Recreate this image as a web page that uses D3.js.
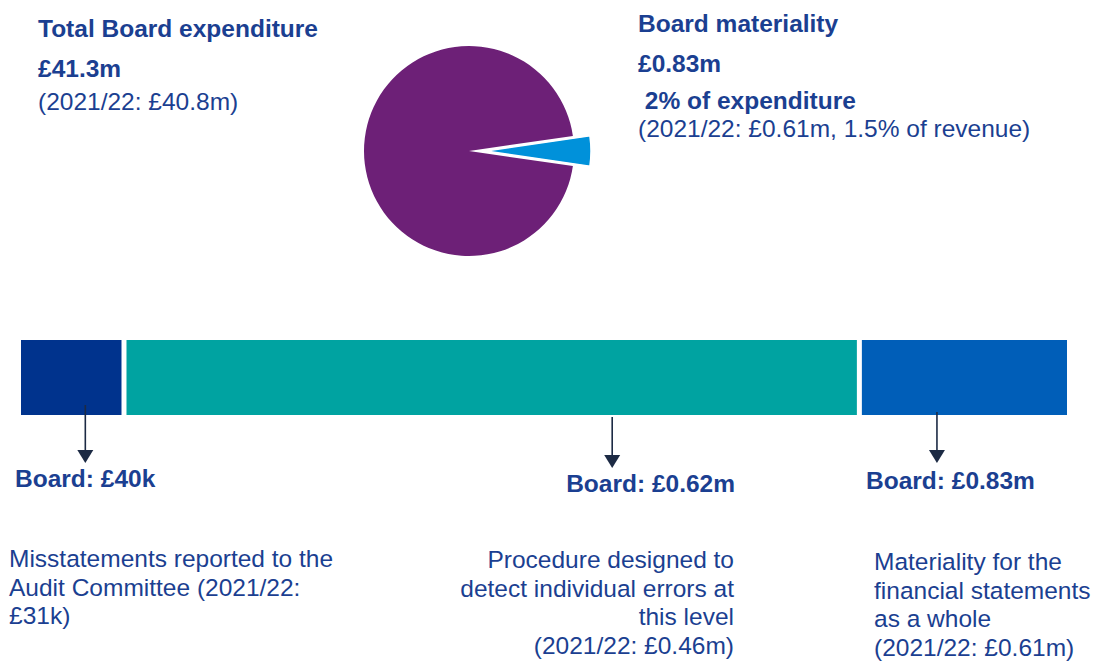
<!DOCTYPE html>
<html>
<head>
<meta charset="utf-8">
<script src="https://cdn.jsdelivr.net/npm/d3@7"></script>
<style>
  body { margin: 0; background: #fff; }
  svg text { font-family: "Liberation Sans", Arial, sans-serif; fill: #1b3f91; }
</style>
</head>
<body>
<div id="chart"></div>
<script>
// Dữ liệu
const leftHead = ["Total Board expenditure", "£41.3m", "(2021/22: £40.8m)"];
const rightHead = ["Board materiality", "£0.83m", " 2% of expenditure", "(2021/22: £0.61m, 1.5% of revenue)"];

// pie: slice share as drawn in picture
const pieNames = ["Board materiality", "Other expenditure"];
const pieShares = [4.6, 95.4];

// bar segments (share of bar width as drawn)
const segNames = ["Misstatements", "Procedure", "Materiality"];
const segShares = [9.7, 70.5, 19.8];
const boardLabels = ["Board: £40k", "Board: £0.62m", "Board: £0.83m"];
const segDesc = [
  ["Misstatements reported to the", "Audit Committee (2021/22:", "£31k)"],
  ["Procedure designed to", "detect individual errors at", "this level", "(2021/22: £0.46m)"],
  ["Materiality for the", "financial statements", "as a whole", "(2021/22: £0.61m)"]
];

const W = 1094, H = 661;
const FS = 24.5;
const segColors = ["#00338d", "#00a3a1", "#005eb8"];
const pieColors = ["#0091da", "#6d2077"];

const svg = d3.select("#chart").append("svg")
  .attr("width", W).attr("height", H);

// Tiêu đề trái
[[37, "bold"], [77, "bold"], [110, "normal"]].forEach(([y, fw], i) => {
  svg.append("text").attr("x", 38).attr("y", y)
    .style("font-size", FS + "px").style("font-weight", fw)
    .text(leftHead[i]);
});

// Tiêu đề phải
[[32, "bold"], [72, "bold"], [109, "bold"], [137, "normal"]].forEach(([y, fw], i) => {
  svg.append("text").attr("x", 638).attr("y", y)
    .style("font-size", FS + "px").style("font-weight", fw)
    .style("white-space", "pre")
    .text(rightHead[i]);
});

// Pie
const cx = 469, cy = 151, r = 105, explode = 17;
const sliceAngle = pieShares[0] / d3.sum(pieShares) * 2 * Math.PI;
const pie = d3.pie().sort(null)
  .startAngle(Math.PI / 2 - sliceAngle / 2)
  .endAngle(Math.PI / 2 - sliceAngle / 2 + 2 * Math.PI);
const arc = d3.arc().innerRadius(0).outerRadius(r);

svg.append("g").attr("transform", `translate(${cx},${cy})`)
  .selectAll("path")
  .data(pie(pieShares))
  .enter()
  .append("path")
    .attr("d", arc)
    .attr("transform", (d, i) => {
      if (i !== 0) return null;
      const a = (d.startAngle + d.endAngle) / 2;
      return `translate(${explode * Math.sin(a)},${-explode * Math.cos(a)})`;
    })
    .attr("fill", (d, i) => pieColors[i])
    .attr("stroke", "#fff")
    .attr("stroke-width", (d, i) => i === 0 ? 1.5 : 0);

// Thanh ngang
const barX0 = 21, barX1 = 1067, gap = 5, barY = 340, barH = 75;
const x = d3.scaleLinear()
  .domain([0, d3.sum(segShares)])
  .range([barX0, barX1 - gap * (segShares.length - 1)]);
const cum = d3.cumsum(segShares);
const segs = segShares.map((v, i) => ({
  name: segNames[i],
  x0: x(i === 0 ? 0 : cum[i - 1]) + gap * i,
  x1: x(cum[i]) + gap * i
}));

svg.selectAll("rect.seg")
  .data(segs)
  .enter()
  .append("rect")
    .attr("class", "seg")
    .attr("x", d => d.x0)
    .attr("y", barY)
    .attr("width", d => d.x1 - d.x0)
    .attr("height", barH)
    .attr("fill", (d, i) => segColors[i]);

// Mũi tên + nhãn
const arrowFrac = [0.64, 0.665, 0.366];
const arrowY = [[405, 463], [417, 468], [412, 463]];
const labelPos = [[15, 487, "start"], [735, 492, "end"], [866, 489, "start"]];
segs.forEach((s, i) => {
  const ax = s.x0 + (s.x1 - s.x0) * arrowFrac[i];
  const [y0, y1] = arrowY[i];
  svg.append("line")
    .attr("x1", ax).attr("x2", ax)
    .attr("y1", y0).attr("y2", y1 - 10)
    .attr("stroke", "#1c2a44").attr("stroke-width", 1.6);
  svg.append("path")
    .attr("d", `M${ax - 8},${y1 - 13}L${ax + 8},${y1 - 13}L${ax},${y1}Z`)
    .attr("fill", "#1c2a44");
  svg.append("text")
    .attr("x", labelPos[i][0]).attr("y", labelPos[i][1])
    .attr("text-anchor", labelPos[i][2])
    .style("font-size", FS + "px").style("font-weight", "bold")
    .text(boardLabels[i]);
});

// Mô tả
const descPos = [[9, 567, "start"], [734, 568, "end"], [874, 570, "start"]];
segDesc.forEach((lines, i) => {
  const t = svg.append("text")
    .attr("text-anchor", descPos[i][2])
    .style("font-size", FS + "px");
  lines.forEach((ln, j) => {
    t.append("tspan")
      .attr("x", descPos[i][0])
      .attr("y", descPos[i][1] + j * 28.5)
      .text(ln);
  });
});
</script>
</body>
</html>
